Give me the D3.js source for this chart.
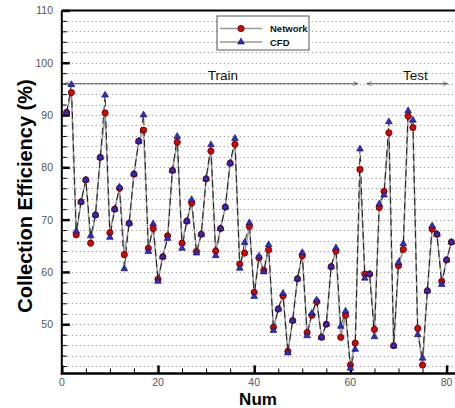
<!DOCTYPE html>
<html>
<head>
<meta charset="utf-8">
<script src="https://cdn.jsdelivr.net/npm/d3@7"></script>
<style>
  body { margin: 0; background: #fff; }
  svg { display: block; font-family: "Liberation Sans", Arial, sans-serif; }
</style>
</head>
<body>
<div id="chart"></div>
<script>
// sample index 1..81
const nums = d3.range(1, 82);

// Network prediction (%)
const network = [
  90.5, 94.3, 67.1, 73.4, 77.6, 65.5, 70.9, 81.9, 90.4, 67.5,
  72.0, 76.0, 63.3, 69.3, 78.7, 85.0, 87.1, 64.5, 68.3, 58.6,
  62.9, 66.9, 79.4, 84.8, 65.5, 69.7, 73.2, 63.9, 67.2, 77.8,
  83.1, 64.0, 68.3, 72.4, 80.8, 84.4, 61.5, 63.6, 68.7, 56.1,
  62.7, 60.3, 64.2, 49.4, 52.9, 55.4, 44.8, 50.7, 58.7, 63.1,
  48.4, 51.7, 54.3, 47.5, 50.0, 61.0, 64.0, 47.5, 51.7, 42.2,
  46.4, 79.6, 59.6, 59.6, 49.0, 72.3, 75.4, 86.6, 45.9, 61.2,
  64.3, 89.8, 87.6, 49.2, 42.2, 56.4, 68.2, 67.2, 58.2, 62.3,
  65.7
];

// CFD result (%)
const cfd = [
  90.5, 95.8, 67.8, 73.4, 77.6, 66.9, 70.9, 81.9, 93.8, 66.6,
  72.0, 76.2, 60.6, 69.3, 78.7, 85.0, 90.0, 63.9, 69.2, 58.2,
  62.9, 66.4, 79.4, 85.9, 64.5, 69.7, 73.8, 63.6, 67.2, 77.8,
  84.3, 63.1, 68.3, 72.4, 80.8, 85.5, 60.7, 65.6, 69.4, 55.3,
  63.0, 60.0, 65.2, 48.8, 52.9, 55.9, 44.5, 50.7, 58.7, 63.7,
  47.8, 52.1, 54.6, 47.5, 50.0, 61.0, 64.6, 49.6, 52.5, 41.6,
  45.2, 83.5, 58.8, 59.6, 47.6, 73.0, 74.7, 88.7, 45.9, 61.8,
  65.4, 90.8, 89.0, 48.0, 43.5, 56.4, 68.8, 67.2, 57.6, 62.3,
  65.7
];

const yTicks = [50, 60, 70, 80, 90, 100, 110];
const xTicks = [0, 20, 40, 60, 80];

// dataset split annotations
const splits = [
  { label: "Train", from: 0.5, to: 61.6, at: 96, labelX: 33.5 },
  { label: "Test", from: 63.4, to: 80.2, at: 96, labelX: 73.5 }
];

const W = 455, H = 408;
const svg = d3.select("#chart").append("svg")
  .attr("width", W).attr("height", H);

const x = d3.scaleLinear().domain([0, 82]).range([61.8, 456.2]);
const y = d3.scaleLinear().domain([40.6, 110]).range([373.4, 10.4]);

// dotted grid every 2 units
svg.append("g")
  .selectAll("line")
  .data(d3.range(42, 110, 2))
  .join("line")
  .attr("x1", x(0) + 2).attr("x2", W)
  .attr("y1", d => Math.round(y(d)) + 0.5).attr("y2", d => Math.round(y(d)) + 0.5)
  .attr("stroke", "#8a8a8a").attr("stroke-width", 1)
  .attr("stroke-dasharray", "1,3");

// y axis: inward ticks
const yMinor = d3.axisRight(y).tickValues(d3.range(42, 110, 2)).tickSize(5).tickFormat("");
const yMajor = d3.axisRight(y).tickValues(yTicks).tickSize(8).tickFormat("");
svg.append("g").attr("transform", `translate(${x(0)},0)`).call(yMinor)
  .call(g => g.select(".domain").remove())
  .selectAll("line").attr("stroke", "#000");
svg.append("g").attr("transform", `translate(${x(0)},0)`).call(yMajor)
  .call(g => g.select(".domain").remove())
  .selectAll("line").attr("stroke", "#000").attr("stroke-width", 2.5);

svg.append("g")
  .selectAll("text")
  .data(yTicks)
  .join("text")
  .attr("x", 53).attr("y", d => y(d) + 4)
  .attr("text-anchor", "end")
  .attr("font-size", 10.5).attr("fill", "#555")
  .text(d => d);

// x axis: inward ticks
const xMinor = d3.axisTop(x).tickValues(d3.range(0, 82, 5)).tickSize(5).tickFormat("");
const xMajor = d3.axisTop(x).tickValues(xTicks).tickSize(8).tickFormat("");
svg.append("g").attr("transform", `translate(0,${y.range()[0]})`).call(xMinor)
  .call(g => g.select(".domain").remove())
  .selectAll("line").attr("stroke", "#000");
svg.append("g").attr("transform", `translate(0,${y.range()[0]})`).call(xMajor)
  .call(g => g.select(".domain").remove())
  .selectAll("line").attr("stroke", "#000").attr("stroke-width", 2.5);

svg.append("g")
  .selectAll("text")
  .data(xTicks)
  .join("text")
  .attr("x", d => x(d)).attr("y", 386)
  .attr("text-anchor", "middle")
  .attr("font-size", 10.5).attr("fill", "#555")
  .text(d => d);

// frame
svg.append("line").attr("x1", x(0)).attr("x2", W).attr("y1", y(110)).attr("y2", y(110))
  .attr("stroke", "#000").attr("stroke-width", 2);
svg.append("line").attr("x1", x(0)).attr("x2", x(0)).attr("y1", y(110)).attr("y2", y.range()[0] + 1)
  .attr("stroke", "#000").attr("stroke-width", 2);
svg.append("line").attr("x1", x(0) - 1).attr("x2", W).attr("y1", y.range()[0]).attr("y2", y.range()[0])
  .attr("stroke", "#000").attr("stroke-width", 2.5);

// axis titles
svg.append("text")
  .attr("transform", `translate(32,196) rotate(-90)`)
  .attr("text-anchor", "middle")
  .attr("font-size", 20).attr("font-weight", "bold")
  .text("Collection Efficiency (%)");
svg.append("text")
  .attr("x", 258).attr("y", 405)
  .attr("text-anchor", "middle")
  .attr("font-size", 17).attr("font-weight", "bold")
  .text("Num");

// split arrows
const defs = svg.append("defs");
defs.append("marker").attr("id", "arrEnd")
  .attr("viewBox", "0 -5 10 10").attr("refX", 10).attr("refY", 0)
  .attr("markerWidth", 9).attr("markerHeight", 5).attr("markerUnits", "userSpaceOnUse")
  .attr("orient", "auto")
  .append("path").attr("d", "M0,-4L10,0L0,4").attr("fill", "none").attr("stroke", "#444").attr("stroke-width", 1.2);
defs.append("marker").attr("id", "arrStart")
  .attr("viewBox", "0 -5 10 10").attr("refX", 0).attr("refY", 0)
  .attr("markerWidth", 9).attr("markerHeight", 5).attr("markerUnits", "userSpaceOnUse")
  .attr("orient", "auto")
  .append("path").attr("d", "M10,-4L0,0L10,4").attr("fill", "none").attr("stroke", "#444").attr("stroke-width", 1.2);

svg.append("g")
  .selectAll("line")
  .data(splits)
  .join("line")
  .attr("x1", d => x(d.from)).attr("x2", d => x(d.to))
  .attr("y1", d => y(d.at)).attr("y2", d => y(d.at))
  .attr("stroke", "#777").attr("stroke-width", 1.2)
  .attr("marker-start", "url(#arrStart)").attr("marker-end", "url(#arrEnd)");
svg.append("g")
  .selectAll("text")
  .data(splits)
  .join("text")
  .attr("x", d => x(d.labelX)).attr("y", d => y(d.at) - 4)
  .attr("text-anchor", "middle").attr("font-size", 13.5).attr("fill", "#111")
  .text(d => d.label);

// series lines
const line = d3.line().x(d => x(d[0])).y(d => y(d[1]));
svg.append("path")
  .datum(nums.map((n, i) => [n, network[i]]))
  .attr("d", line).attr("fill", "none")
  .attr("stroke", "#9a9a9a").attr("stroke-width", 1.6);
svg.append("path")
  .datum(nums.map((n, i) => [n, cfd[i]]))
  .attr("d", line).attr("fill", "none")
  .attr("stroke", "#111").attr("stroke-width", 0.9)
  .attr("stroke-dasharray", "7,4");

const tri = d3.symbol().type(d3.symbolTriangle).size(20);

// markers
svg.append("g")
  .selectAll("circle")
  .data(nums)
  .join("circle")
  .attr("cx", d => x(d)).attr("cy", (d, i) => y(network[i]))
  .attr("r", 3.1)
  .attr("fill", "#e00000").attr("stroke", "#400").attr("stroke-width", 0.8);
svg.append("g")
  .selectAll("path")
  .data(nums)
  .join("path")
  .attr("d", tri)
  .attr("transform", (d, i) => `translate(${x(d)},${y(cfd[i])})`)
  .attr("fill", "#2a2ae0").attr("stroke", "#113").attr("stroke-width", 0.6);

// legend
const lg = svg.append("g").attr("transform", "translate(217,16)");
lg.append("rect").attr("width", 92).attr("height", 34)
  .attr("fill", "#fff").attr("stroke", "#555").attr("stroke-width", 1);
const rows = [
  { name: "Network", kind: "circle" },
  { name: "CFD", kind: "tri" }
];
rows.forEach((r, i) => {
  const cy = 12.5 + i * 13.5;
  lg.append("line").attr("x1", 3).attr("x2", 45).attr("y1", cy).attr("y2", cy)
    .attr("stroke", "#999").attr("stroke-width", 1.4);
  if (r.kind === "circle") {
    lg.append("circle").attr("cx", 24).attr("cy", cy).attr("r", 3.1)
      .attr("fill", "#e00000").attr("stroke", "#400").attr("stroke-width", 0.8);
  } else {
    lg.append("path").attr("d", tri).attr("transform", `translate(24,${cy})`)
      .attr("fill", "#2a2ae0").attr("stroke", "#113").attr("stroke-width", 0.6);
  }
  lg.append("text").attr("x", 53).attr("y", cy + 3.5)
    .attr("font-size", 9.5).attr("font-weight", "bold").attr("fill", "#111")
    .text(r.name);
});
</script>
</body>
</html>
